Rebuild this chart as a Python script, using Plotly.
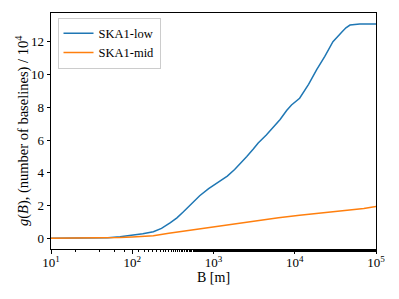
import plotly.graph_objects as go

# Baseline length B [m] (log10 readings) and g(B) / 1e4
low_logB = [1.0, 1.5, 1.6, 1.7, 1.85, 2.0, 2.13, 2.26, 2.36, 2.47, 2.55, 2.63, 2.73, 2.83,
            2.94, 3.08, 3.17, 3.26, 3.34, 3.41, 3.49, 3.55, 3.65, 3.72, 3.82, 3.9, 3.96,
            4.06, 4.17, 4.27, 4.37, 4.47, 4.52, 4.58, 4.63, 4.68, 4.8, 5.0]
low_g = [0.0, 0.0, 0.01, 0.03, 0.1, 0.18, 0.27, 0.4, 0.6, 0.95, 1.25, 1.62, 2.1, 2.6,
         3.03, 3.5, 3.8, 4.2, 4.6, 5.0, 5.45, 5.82, 6.3, 6.7, 7.25, 7.8, 8.14,
         8.55, 9.4, 10.3, 11.1, 12.0, 12.3, 12.6, 12.85, 13.02, 13.08, 13.09]

mid_logB = [1.0, 1.5, 1.7, 1.85, 2.0, 2.26, 2.45, 2.67, 2.83, 3.08, 3.24, 3.33, 3.49,
            3.6, 3.8, 4.06, 4.3, 4.47, 4.68, 4.85, 5.0]
mid_g = [0.0, 0.0, 0.005, 0.04, 0.08, 0.16, 0.3, 0.46, 0.55, 0.73, 0.85, 0.9, 1.01,
         1.13, 1.25, 1.41, 1.53, 1.61, 1.72, 1.82, 1.94]

series_names = ["SKA1-low", "SKA1-mid"]
x_tickvals = [10, 100, 1000, 10000, 100000]
x_ticktext = ["10<sup>1</sup>", "10<sup>2</sup>", "10<sup>3</sup>", "10<sup>4</sup>", "10<sup>5</sup>"]
y_tickvals = [0, 2, 4, 6, 8, 10, 12]
x_title = "B [m]"
y_title = "<i>g</i>(<i>B</i>), (number of baselines) / 10<sup>4</sup>"

low_B = [10 ** v for v in low_logB]
mid_B = [10 ** v for v in mid_logB]

font_family = "Liberation Serif, Times New Roman, DejaVu Serif, serif"

fig = go.Figure()
fig.add_trace(go.Scatter(x=low_B, y=low_g, mode="lines", name=series_names[0],
                         line=dict(color="#1f77b4", width=1.5)))
fig.add_trace(go.Scatter(x=mid_B, y=mid_g, mode="lines", name=series_names[1],
                         line=dict(color="#ff7f0e", width=1.5)))

axis_common = dict(showgrid=False, zeroline=False, showline=True, linecolor="black",
                   linewidth=1, mirror=True, ticks="outside", ticklen=3.5, tickwidth=0.8,
                   tickcolor="black", tickfont=dict(family=font_family, size=13, color="black"))

fig.update_xaxes(type="log", range=[1, 5], tickvals=x_tickvals, ticktext=x_ticktext,
                 minor=dict(ticks="outside", ticklen=2, tickwidth=0.6, tickcolor="black"),
                 ticklabelstandoff=-2,
                 **axis_common)
fig.update_yaxes(range=[-0.655, 13.755], tickvals=y_tickvals, **axis_common)

fig.add_annotation(text=x_title, xref="paper", yref="paper", x=0.5, y=-0.12,
                   xanchor="center", yanchor="middle", showarrow=False,
                   font=dict(family=font_family, size=14, color="black"))
fig.add_annotation(text=y_title, xref="paper", yref="paper", x=-0.089, y=0.5,
                   xanchor="center", yanchor="middle", textangle=-90, showarrow=False,
                   font=dict(family=font_family, size=14.5, color="black"))

# page body has an 8px margin: figure is sized/offset to compensate
fig.update_layout(
    width=383, height=283,
    margin=dict(l=43, r=15, t=5, b=42, autoexpand=False),
    plot_bgcolor="white", paper_bgcolor="white",
    font=dict(family=font_family, size=13, color="black"),
    legend=dict(x=0.02, y=0.98, xanchor="left", yanchor="top",
                bgcolor="rgba(255,255,255,0.8)", bordercolor="#cccccc", borderwidth=1,
                font=dict(family=font_family, size=12.5, color="black"),
                tracegroupgap=0, itemwidth=30),
    showlegend=True,
)

fig.write_html("out.html")
